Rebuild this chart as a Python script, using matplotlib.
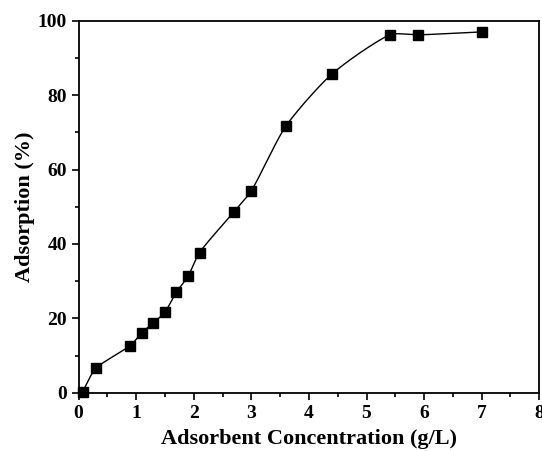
import numpy as np
import matplotlib
matplotlib.use("Agg")
import matplotlib.pyplot as plt
from matplotlib.ticker import MultipleLocator

# --- dane ---
conc = [0.07, 0.3, 0.9, 1.1, 1.3, 1.5, 1.7, 1.9, 2.1, 2.7, 3.0, 3.6, 4.4, 5.4, 5.9, 7.0]
adsorption = [0.3, 6.6, 12.7, 16.2, 18.8, 21.7, 27.1, 31.3, 37.7, 48.7, 54.3, 71.7, 85.7, 96.2, 96.2, 97.0]


def hermite_curve(t, v, ts, tension=0.7):
    # krzywa Hermite'a ze stycznymi Catmulla-Roma (lokalne wygładzenie)
    t = np.asarray(t, float)
    v = np.asarray(v, float)
    n = len(t)
    m = np.zeros(n)
    m[1:-1] = (v[2:] - v[:-2]) / (t[2:] - t[:-2])
    m[0] = (v[1] - v[0]) / (t[1] - t[0])
    m[-1] = (v[-1] - v[-2]) / (t[-1] - t[-2])
    m *= tension
    h = np.diff(t)
    idx = np.clip(np.searchsorted(t, ts) - 1, 0, n - 2)
    s = (ts - t[idx]) / h[idx]
    h00 = 2 * s**3 - 3 * s**2 + 1
    h10 = s**3 - 2 * s**2 + s
    h01 = -2 * s**3 + 3 * s**2
    h11 = s**3 - s**2
    return (h00 * v[idx] + h10 * h[idx] * m[idx]
            + h01 * v[idx + 1] + h11 * h[idx] * m[idx + 1])


# parametr = długość cięciwy w pikselach
px = np.asarray(conc) * 57.6
py = np.asarray(adsorption) * 3.72
t = np.concatenate([[0], np.cumsum(np.hypot(np.diff(px), np.diff(py)))])
ts = np.linspace(0, t[-1], 1500)
xs = hermite_curve(t, conc, ts)
ys = hermite_curve(t, adsorption, ts)

plt.rcParams['font.family'] = ['Liberation Serif', 'DejaVu Serif']
plt.rcParams['font.weight'] = 'bold'

fig = plt.figure(figsize=(5.42, 4.51), dpi=100)
ax = fig.add_axes([0.145, 0.129, 0.850, 0.825])

ax.plot(xs, ys, color='black', linewidth=1.0)
ax.plot(conc, adsorption, 's', color='black', markersize=6.5, clip_on=False)

ax.set_xlim(0, 8)
ax.set_ylim(0, 100)
ax.xaxis.set_major_locator(MultipleLocator(1))
ax.xaxis.set_minor_locator(MultipleLocator(0.5))
ax.yaxis.set_major_locator(MultipleLocator(20))
ax.yaxis.set_minor_locator(MultipleLocator(10))
ax.tick_params(which='both', direction='out', top=False, right=False, width=1.2)
ax.tick_params(which='major', length=5, labelsize=14)
ax.tick_params(which='minor', length=3)
for lab in ax.get_xticklabels() + ax.get_yticklabels():
    lab.set_fontweight('bold')
for sp in ax.spines.values():
    sp.set_linewidth(1.3)

ax.set_xlabel('Adsorbent Concentration (g/L)', fontsize=16, fontweight='bold', labelpad=5)
ax.set_ylabel('Adsorption (%)', fontsize=16, fontweight='bold', labelpad=2)

fig.savefig('out.png', dpi=100)
